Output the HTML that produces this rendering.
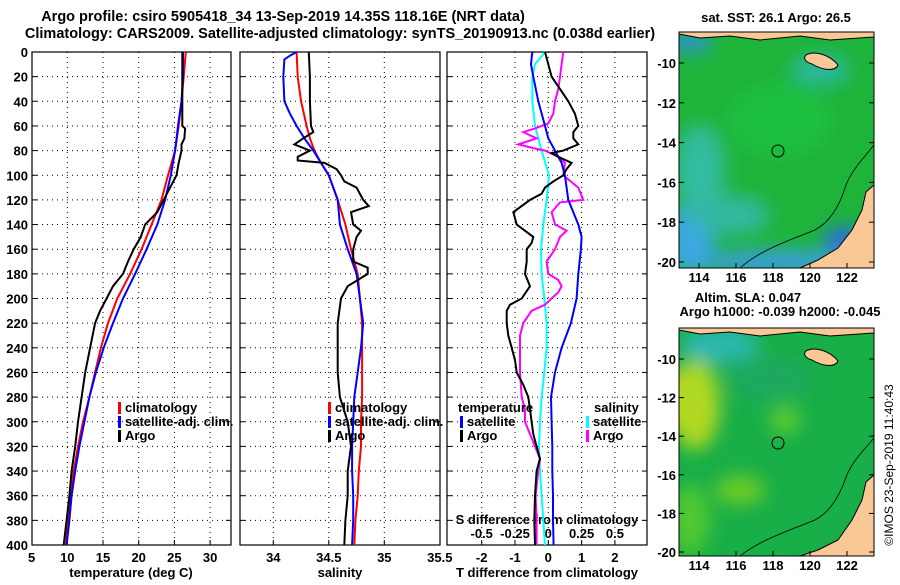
<!DOCTYPE html>
<html><head><meta charset="utf-8"><style>
body{margin:0;background:#fff}
svg text{font-family:"Liberation Sans",sans-serif;font-weight:bold;font-size:13px;fill:#000}
svg text.tt{font-size:14.5px}
</style></head><body>
<svg id="s" width="900" height="580" viewBox="0 0 900 580" xmlns="http://www.w3.org/2000/svg">
<defs>
<filter id="bl" x="-50%" y="-50%" width="200%" height="200%"><feGaussianBlur stdDeviation="9"/></filter>
<clipPath id="c1"><rect x="679" y="32" width="195" height="236"/></clipPath>
<clipPath id="c2"><rect x="679" y="328" width="195" height="228"/></clipPath>
</defs>
<text class="tt" x="283" y="21" text-anchor="middle">Argo profile: csiro 5905418_34 13-Sep-2019 14.35S 118.16E (NRT data)</text>
<text class="tt" x="340" y="38" text-anchor="middle">Climatology: CARS2009. Satellite-adjusted climatology: synTS_20190913.nc (0.038d earlier)</text>

<!-- top map -->
<g clip-path="url(#c1)">
<rect x="679" y="32" width="195" height="236" fill="#1eb43a"/>
<g filter="url(#bl)">
<ellipse cx="690" cy="240" rx="25" ry="35" fill="#3aa8e0"/>
<ellipse cx="780" cy="262" rx="85" ry="12" fill="#3a9ee0"/>
<ellipse cx="845" cy="240" rx="22" ry="14" fill="#2a70d8"/>
<ellipse cx="690" cy="42" rx="22" ry="10" fill="#2f90dc"/>
<ellipse cx="700" cy="170" rx="25" ry="45" fill="#30bca0"/>
<ellipse cx="730" cy="215" rx="40" ry="20" fill="#30b8a0"/>
<ellipse cx="820" cy="70" rx="30" ry="15" fill="#2ab8a0"/>
<ellipse cx="780" cy="120" rx="50" ry="35" fill="#1ec040"/>
</g>
<path d="M679,32 L874,32 L874,37 L830,40 L800,36 L760,40 L730,36 L700,38 L679,34Z" fill="#f9c896" stroke="#000" stroke-width="1"/>
<path d="M806,55 C815,50 830,55 838,65 C835,72 822,70 812,64 C805,62 803,58 806,55Z" fill="#f9c896" stroke="#000"/>
<path d="M874,185 L866,192 L862,210 L852,230 L838,248 L818,260 L800,268 L874,268Z" fill="#f9c896" stroke="#000"/>
<path d="M740,268 C760,250 790,240 815,230 C830,222 840,205 846,185 C852,170 862,160 874,145" fill="none" stroke="#000" stroke-width="0.8"/>
<circle cx="778" cy="151" r="6" fill="none" stroke="#000"/>
</g>
<rect x="679" y="32" width="195" height="236" fill="none" stroke="#000"/>
<text x="776" y="22" text-anchor="middle">sat. SST: 26.1 Argo: 26.5</text>

<!-- bottom map -->
<g clip-path="url(#c2)">
<rect x="679" y="328" width="195" height="228" fill="#18ae48"/>
<g filter="url(#bl)">
<ellipse cx="682" cy="400" rx="20" ry="30" fill="#f0d818"/>
<ellipse cx="695" cy="405" rx="25" ry="45" fill="#b0d820"/>
<ellipse cx="720" cy="345" rx="40" ry="18" fill="#2ab8b0"/>
<ellipse cx="740" cy="490" rx="25" ry="15" fill="#6ccc28"/>
<ellipse cx="785" cy="420" rx="15" ry="15" fill="#5ccc30"/>
<ellipse cx="690" cy="520" rx="20" ry="35" fill="#50c830"/>
<ellipse cx="770" cy="380" rx="40" ry="20" fill="#1aa860"/>
</g>
<path d="M679,328 L874,328 L874,333 L830,336 L800,332 L760,336 L730,332 L700,334 L679,330Z" fill="#f9c896" stroke="#000"/>
<path d="M806,351 C815,346 830,351 838,361 C835,368 822,366 812,360 C805,358 803,354 806,351Z" fill="#f9c896" stroke="#000"/>
<path d="M874,475 L866,482 L862,500 L852,520 L838,540 L818,550 L800,556 L874,556Z" fill="#f9c896" stroke="#000"/>
<path d="M740,556 C760,540 790,530 815,520 C830,512 840,495 846,477 C852,462 862,452 874,438" fill="none" stroke="#000" stroke-width="0.8"/>
<circle cx="778" cy="443" r="6" fill="none" stroke="#000"/>
</g>
<rect x="679" y="328" width="195" height="228" fill="none" stroke="#000"/>
<text x="748" y="302" text-anchor="middle">Altim. SLA: 0.047</text>
<text x="780" y="316" text-anchor="middle">Argo h1000: -0.039 h2000: -0.045</text>
<text transform="translate(893,465) rotate(-90)" text-anchor="middle" style="font-weight:normal;font-size:12px">©IMOS 23-Sep-2019 11:40:43</text>
<g id="maxes"></g>
<g id="plots"></g>
</svg>
<script>
// ---- data ----
const depthTicks=[0,20,40,60,80,100,120,140,160,180,200,220,240,260,280,300,320,340,360,380,400];
const tempTicks=[5,10,15,20,25,30];
const salTicks=[34,34.5,35,35.5];
const tdiffTicks=[-2,-1,0,1,2];
const sdiffTicks=["-0.5","-0.25","0","0.25","0.5"];
const latTicks=[-10,-12,-14,-16,-18,-20];
const lonTicks=[114,116,118,120,122];

const tClimDepth=[0,20,40,60,80,100,120,140,160,180,200,220,240,260,280,300,320,340,360,380,400];
const tClim=[26.6,26.3,26.0,25.6,25.1,24.1,23.2,21.8,20.4,18.8,17.0,15.7,14.7,13.9,13.1,12.2,11.5,10.9,10.5,10.1,9.8];
const tSat=[26.2,26.2,26.0,25.5,25.1,24.5,23.7,22.6,21.1,19.5,17.8,16.4,15.1,14.0,13.1,12.4,11.7,11.1,10.6,10.3,9.9];
const tArgoDepth=[0,40,60,62,70,75,80,90,100,110,120,130,140,150,160,170,180,190,200,210,220,240,260,280,300,320,340,360,380,400];
const tArgo=[26.1,26.1,26.1,26.5,26.4,26.0,26.0,25.6,25.3,24.4,23.5,22.6,20.9,20.3,19.3,18.5,17.8,16.4,15.5,14.6,13.9,13.2,12.5,12.0,11.5,11.1,10.6,10.3,9.9,9.5];

const sClimDepth=[0,20,40,60,70,80,90,100,120,140,160,180,200,220,240,260,280,300,320,340,360,380,400];
const sClim=[34.21,34.22,34.25,34.30,34.33,34.37,34.43,34.50,34.58,34.65,34.70,34.76,34.78,34.80,34.80,34.80,34.80,34.79,34.79,34.77,34.76,34.74,34.73];
const sSatDepth=[0,3,6,20,40,50,60,70,80,90,100,120,140,160,180,200,220,240,260,280,300,320,340,360,380,400];
const sSat=[34.21,34.15,34.10,34.09,34.10,34.15,34.21,34.28,34.36,34.43,34.50,34.58,34.60,34.67,34.75,34.78,34.81,34.79,34.76,34.73,34.72,34.71,34.71,34.72,34.72,34.71];
const sArgoDepth=[0,20,40,60,65,70,75,80,85,88,90,95,100,105,110,120,125,130,140,145,150,160,170,175,180,190,200,220,240,260,280,300,320,340,360,380,400];
const sArgo=[34.32,34.33,34.33,34.34,34.36,34.27,34.19,34.33,34.22,34.22,34.46,34.57,34.61,34.64,34.75,34.81,34.86,34.70,34.72,34.79,34.75,34.72,34.72,34.85,34.85,34.67,34.61,34.58,34.58,34.58,34.60,34.67,34.70,34.67,34.67,34.65,34.64];

const dTSatDepth=[0,10,20,40,60,70,80,90,100,120,130,140,150,160,180,200,220,240,260,280,300,320,340,360,380,400];
const dTSat=[-0.48,-0.52,-0.45,-0.30,-0.10,0,0.20,0.40,0.50,0.60,0.75,0.90,1.00,0.98,0.90,0.85,0.68,0.40,0.20,0.08,0.10,0.12,0.12,0.14,0.14,0.16];
const dTArgoDepth=[0,10,20,30,40,50,60,65,70,75,80,82,85,90,95,100,105,110,115,120,130,140,150,155,160,170,180,190,200,205,210,220,230,240,250,260,270,280,290,300,310,320,330,340,360,380,400];
const dTArgo=[-0.10,0,0.10,0.35,0.60,0.80,0.90,0.75,0.75,0.90,0.45,0.10,0.30,0.70,0.55,0.45,0.15,-0.10,-0.20,-0.55,-1.05,-0.95,-0.45,-0.50,-0.65,-0.65,-0.70,-0.55,-0.80,-1.15,-1.25,-1.25,-1.20,-1.10,-1.00,-0.95,-0.75,-0.60,-0.55,-0.50,-0.45,-0.35,-0.25,-0.35,-0.40,-0.42,-0.40];
const dSSatDepth=[0,10,20,40,60,80,100,120,140,160,180,200,220,240,260,280,300,320,340,360,380,400];
const dSSat=[-0.025,-0.1,-0.12,-0.12,-0.1,-0.05,0.005,-0.0125,-0.0375,-0.055,-0.05,-0.03,-0.0125,-0.0125,-0.03,-0.05,-0.0625,-0.07,-0.0625,-0.05,-0.0375,-0.025];
const dSArgoDepth=[0,10,20,30,40,50,58,62,65,70,75,78,80,85,90,100,110,120,122,130,140,145,150,160,170,180,185,190,195,200,205,210,220,230,240,260,280,290,300,310,320,330,340,360,380,400];
const dSArgo=[0.1125,0.1,0.0875,0.075,0.05,0.0375,0,-0.1,-0.1875,-0.0875,-0.225,-0.1125,-0.025,0.075,0.125,0.1125,0.225,0.2625,0.0875,0.025,0.05,0.1375,0.0875,0.05,-0.0125,0,0.075,0.1,0.075,0.025,-0.025,-0.125,-0.1875,-0.2125,-0.2125,-0.2125,-0.2,-0.175,-0.175,-0.1375,-0.1,-0.0625,-0.075,-0.095,-0.0875,-0.0875];

// ---- axes ----
const NS='http://www.w3.org/2000/svg';
const yD=d=>52+d*(493/400);
const xT=t=>31.6+(t-5)*7.14;
const xS=s=>273.3+(s-34)*111;
const xDT=t=>548.3+t*33.3;
const xDS=s=>548.3+s*133.2;
const latY1=l=>63+(-10-l)*19.9;
const latY2=l=>359+(-10-l)*19.3;
const lonX=l=>699+(l-114)*18.5;
const root=document.getElementById('plots');
function mk(tag,attrs,parent){const e=document.createElementNS(NS,tag);for(const k in attrs)e.setAttribute(k,attrs[k]);(parent||root).appendChild(e);return e;}
function txt(x,y,s,anchor,parent){const e=mk('text',{x:x,y:y,'text-anchor':anchor||'middle'},parent);e.textContent=s;return e;}

const panels=[{x0:32,x1:231,name:'temperature-panel'},{x0:240,x1:440,name:'salinity-panel'},{x0:447,x1:647,name:'difference-panel'}];
panels.forEach((p,i)=>{
  const g=mk('g',{});
  
  
  depthTicks.forEach(d=>{
    if(d>0&&d<400){const l=mk('line',{x1:p.x0,x2:p.x1,y1:yD(d),y2:yD(d),stroke:'#000','stroke-dasharray':'1,4'},g);
    
    
    mk('line',{x1:p.x0,x2:p.x0+5,y1:yD(d),y2:yD(d),stroke:'#000'},g);mk('line',{x1:p.x1-5,x2:p.x1,y1:yD(d),y2:yD(d),stroke:'#000'},g);}
  });
  let xs=[];
  if(i==0)xs=tempTicks.map(xT);if(i==1)xs=salTicks.map(xS);if(i==2)xs=tdiffTicks.map(xDT);
  xs.forEach(x=>{if(x>p.x0+1&&x<p.x1-1){const l=mk('line',{x1:x,x2:x,y1:52,y2:545,stroke:'#000','stroke-dasharray':'1,4'},g);
    
    
    mk('line',{x1:x,x2:x,y1:545,y2:540,stroke:'#000'},g);}});
  const f=mk('rect',{x:p.x0,y:52,width:p.x1-p.x0,height:493,fill:'none',stroke:'#000','stroke-width':1.2},g);
  
  
});
depthTicks.forEach(d=>{const t=txt(28,yD(d)+5,String(d),'end');
  
  });
tempTicks.forEach(v=>{const t=txt(xT(v),562,String(v));
  
  });
salTicks.forEach(v=>{const t=txt(xS(v),562,String(v));
  
  });
tdiffTicks.forEach(v=>{const t=txt(xDT(v),562,String(v));
  
  });
sdiffTicks.forEach(v=>{const t=txt(xDS(parseFloat(v)),538,v);
  
  });
let t1=txt(131,577,'temperature (deg C)');
let t2=txt(340,577,'salinity');
let t3=txt(547,577,'T difference from climatology');
let t4=txt(547,524,'S difference from climatology');

function line(depths,vals,xf,color,name){
  const pts=depths.map((d,i)=>xf(vals[i]).toFixed(1)+','+yD(d).toFixed(1)).join(' ');
  const e=mk('polyline',{points:pts,fill:'none',stroke:color,'stroke-width':2});
  
  
}
line(tClimDepth,tClim,xT,'#ff0000','temp-climatology-line');
line(tClimDepth,tSat,xT,'#0000ff','temp-satellite-line');
line(tArgoDepth,tArgo,xT,'#000','temp-argo-line');
line(sClimDepth,sClim,xS,'#ff0000','sal-climatology-line');
line(sSatDepth,sSat,xS,'#0000ff','sal-satellite-line');
line(sArgoDepth,sArgo,xS,'#000','sal-argo-line');
line(dSSatDepth,dSSat,xDS,'#00ffff','sdiff-satellite-line');
line(dSArgoDepth,dSArgo,xDS,'#ff00ff','sdiff-argo-line');
line(dTSatDepth,dTSat,xDT,'#0000ff','tdiff-satellite-line');
line(dTArgoDepth,dTArgo,xDT,'#000','tdiff-argo-line');

function leg(x,y,color,label,name){
  const g=mk('g',{});
  
  
  mk('rect',{x:x,y:y-10,width:3,height:12,fill:color},g);
  txt(x+7,y,label,'start',g);
}
leg(118,412,'#ff0000','climatology','legend-climatology');
leg(118,426,'#0000ff','satellite-adj. clim.','legend-satellite-adj');
leg(118,440,'#000','Argo','legend-argo');
leg(328,412,'#ff0000','climatology','legend-sal-climatology');
leg(328,426,'#0000ff','satellite-adj. clim.','legend-sal-satellite-adj');
leg(328,440,'#000','Argo','legend-sal-argo');
let lt=txt(458,412,'temperature','start');
leg(460,426,'#0000ff','satellite','legend-tdiff-satellite');
leg(460,440,'#000','Argo','legend-tdiff-argo');
let ls=txt(594,412,'salinity','start');
leg(586,426,'#00ffff','satellite','legend-sdiff-satellite');
leg(586,440,'#ff00ff','Argo','legend-sdiff-argo');

// map axes
const ma=document.getElementById('maxes');
latTicks.forEach(l=>{
  [[latY1,32,268],[latY2,328,556]].forEach(m=>{
    const y=m[0](l);
    mk('line',{x1:679,x2:684,y1:y,y2:y,stroke:'#000'},ma);mk('line',{x1:869,x2:874,y1:y,y2:y,stroke:'#000'},ma);
    const t=txt(676,y+5,String(l),'end',ma);
    
    
  });
});
lonTicks.forEach(l=>{
  const x=lonX(l);
  [[268,282],[556,570]].forEach(m=>{
    mk('line',{x1:x,x2:x,y1:m[0],y2:m[0]-5,stroke:'#000'},ma);
    const t=txt(x,m[1],String(l),'middle',ma);
    
    
  });
});
</script>
</body></html>
